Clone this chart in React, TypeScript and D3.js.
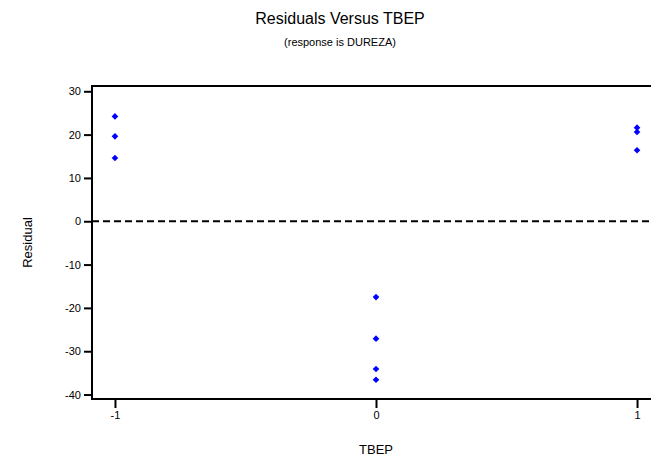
import React, { useEffect, useRef } from "react";
import * as d3 from "d3";

// residuals, grouped by TBEP level
const tbepLevels = [-1, 0, 1];
const residMinus1 = [24.2, 19.6, 14.6];
const residZero = [-17.5, -27.1, -34.1, -36.6];
const residPlus1 = [21.6, 20.6, 16.4];
const yTicks = [30, 20, 10, 0, -10, -20, -30, -40];

const W = 652;
const H = 461;

const App = () => {
  const ref = useRef<SVGSVGElement>(null);

  useEffect(() => {
    const svg = d3.select(ref.current);
    svg.selectAll("*").remove();

    const left = 92, right = 660, top = 86, bottom = 399;
    const edge = W - 1;

    const x = d3.scaleLinear().domain([-1.088, 1.088]).range([left, right]);
    const y = d3.scaleLinear().domain([-41.03, 31.22]).range([bottom, top]);

    const font = "'Liberation Sans', Arial, sans-serif";
    const fmt = (d: any) => String(d); // plain hyphen minus, like the original

    svg.append("text")
      .attr("x", 340).attr("y", 24)
      .attr("text-anchor", "middle")
      .style("font-family", font).style("font-size", "16px")
      .text("Residuals Versus TBEP");

    svg.append("text")
      .attr("x", 340).attr("y", 46)
      .attr("text-anchor", "middle")
      .style("font-family", font).style("font-size", "11px")
      .text("(response is DUREZA)");

    // frame: top, left and bottom, running to the right edge
    svg.append("line")
      .attr("x1", left).attr("x2", edge).attr("y1", top).attr("y2", top)
      .attr("stroke", "black").attr("stroke-width", 2);
    svg.append("line")
      .attr("x1", left).attr("x2", edge).attr("y1", bottom).attr("y2", bottom)
      .attr("stroke", "black").attr("stroke-width", 2);
    svg.append("line")
      .attr("x1", left).attr("x2", left).attr("y1", top - 1).attr("y2", bottom + 1)
      .attr("stroke", "black").attr("stroke-width", 2);

    // zero reference line
    svg.append("line")
      .attr("x1", left).attr("x2", edge)
      .attr("y1", y(0)).attr("y2", y(0))
      .attr("stroke", "black").attr("stroke-width", 2)
      .attr("stroke-dasharray", "7,4");

    // y axis
    const yAxis = d3.axisLeft(y).tickValues(yTicks).tickSize(8).tickPadding(3)
      .tickFormat(fmt);
    const gy = svg.append("g").attr("transform", `translate(${left},0)`).call(yAxis);
    gy.select(".domain").remove();
    gy.selectAll("line").attr("stroke-width", 2);
    gy.selectAll("text").style("font-family", font).style("font-size", "11px");

    // x axis
    const xAxis = d3.axisBottom(x).tickValues(tbepLevels).tickSize(9).tickPadding(3)
      .tickFormat(fmt);
    const gx = svg.append("g").attr("transform", `translate(0,${bottom})`).call(xAxis);
    gx.select(".domain").remove();
    gx.selectAll("line").attr("stroke-width", 2);
    gx.selectAll("text").style("font-family", font).style("font-size", "11px");

    svg.append("text")
      .attr("x", x(0)).attr("y", 454)
      .attr("text-anchor", "middle")
      .style("font-family", font).style("font-size", "13px")
      .text("TBEP");

    svg.append("text")
      .attr("transform", `translate(32,${(top + bottom) / 2}) rotate(-90)`)
      .attr("text-anchor", "middle")
      .style("font-family", font).style("font-size", "13px")
      .text("Residual");

    const points = [
      ...residMinus1.map(v => ({ t: -1, r: v })),
      ...residZero.map(v => ({ t: 0, r: v })),
      ...residPlus1.map(v => ({ t: 1, r: v })),
    ];

    const diamond = d3.symbol().type(d3.symbolSquare).size(22);
    svg.selectAll("path.pt")
      .data(points)
      .enter()
      .append("path")
      .attr("class", "pt")
      .attr("d", diamond)
      .attr("transform", d => `translate(${x(d.t)},${y(d.r)}) rotate(45)`)
      .attr("fill", "#0000ff");
  }, []);

  return (
    <div style={{ position: "absolute", left: 0, top: 0, width: W, height: H, overflow: "hidden" }}>
      <svg ref={ref} width={W} height={H} style={{ display: "block", background: "white" }} />
    </div>
  );
};

export default App;
